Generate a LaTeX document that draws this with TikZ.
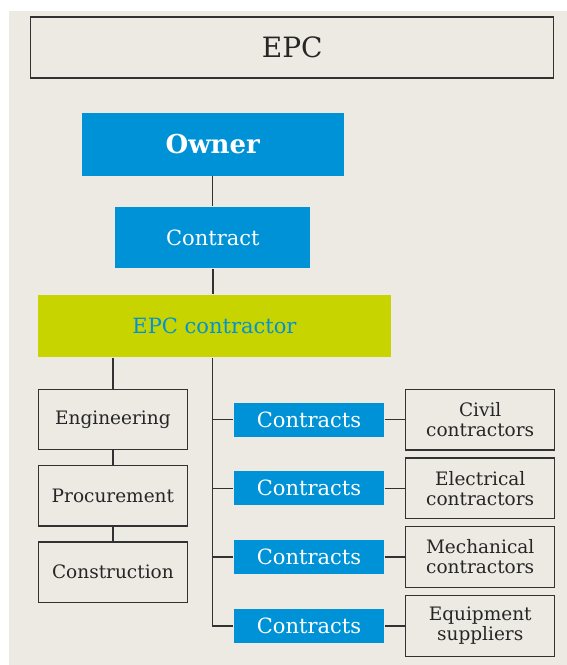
\documentclass[tikz,border=0pt]{standalone}
\usepackage{fontspec}
\setmainfont{DejaVu Serif}
\definecolor{epcblue}{RGB}{0,146,214}
\definecolor{epcgreen}{RGB}{200,212,0}
\definecolor{paper}{RGB}{237,234,228}
\definecolor{rule}{RGB}{50,50,50}
\begin{document}
\begin{tikzpicture}[x=1pt, y=-1pt, line width=1.4pt,
  plain/.style={draw=rule, fill=paper, text=black!85, minimum width=149pt, minimum height=60.5pt,
    inner sep=0pt, align=center, font=\fontsize{18.5}{20}\selectfont},
  bluebox/.style={fill=epcblue, text=white, inner sep=0pt, font=\fontsize{21}{24}\selectfont}]
\useasboundingbox (0,0) rectangle (567,665);
\fill[white] (0,0) rectangle (567,665);
\fill[paper] (9,11) rectangle (567,665);

\node[plain, minimum width=523pt, minimum height=61pt, font=\fontsize{28}{30}\selectfont] (epc) at (292.2,47.3) {EPC};
\node[bluebox, minimum width=262pt, minimum height=63pt, font=\bfseries\fontsize{26}{30}\selectfont] (owner) at (212.7,144.2) {Owner};
\node[bluebox, minimum width=195pt, minimum height=61.6pt] (contract) at (212.8,237.5) {Contract};
\node[bluebox, fill=epcgreen, text=epcblue, minimum width=352.4pt, minimum height=62.3pt] (epcc) at (214.5,326.2) {EPC contractor};

\node[plain] (eng) at (112.9,419.5) {Engineering};
\node[plain] (proc) at (112.9,495.8) {Procurement};
\node[plain] (cons) at (112.9,572.1) {Construction};

\foreach \y/\t [count=\i] in {419.7/{Civil\\contractors}, 488.3/{Electrical\\contractors},
    557/{Mechanical\\contractors}, 626/{Equipment\\suppliers}}
{
    \node[bluebox, minimum width=150pt, minimum height=34pt] (k\i) at (309,\y) {Contracts};
    \node[plain] (s\i) at (480.2,\y) {\t};
    \draw[rule] (k\i) -- (s\i);
}

\draw[rule] (owner.south) -- (owner.south |- contract.north);
\draw[rule] (contract.south) -- (contract.south |- epcc.north);
\draw[rule] (eng.north |- epcc.south) -- (eng.north);
\draw[rule] (eng) -- (proc);
\draw[rule] (proc) -- (cons);
\draw[rule] (owner.south |- epcc.south) -- (owner.south |- k4.west) -- (k4.west);
\foreach \i in {1,2,3}
{
    \draw[rule] (owner.south |- k\i.west) -- (k\i.west);
}
\end{tikzpicture}
\end{document}
